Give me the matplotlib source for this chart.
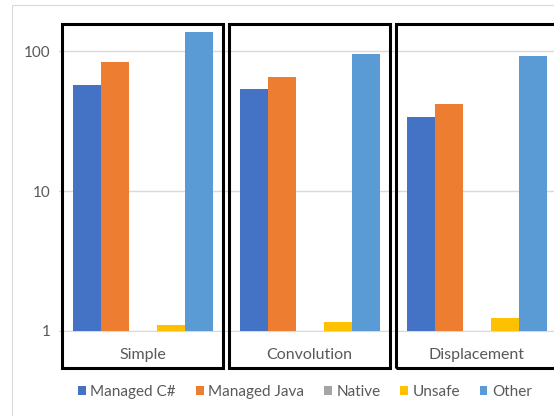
import numpy as np
import matplotlib
matplotlib.use('Agg')
import matplotlib.pyplot as plt
from matplotlib.patches import Rectangle
from matplotlib.transforms import blended_transform_factory

# data (log scale, axis starts at 1)
categories = ['Simple', 'Convolution', 'Displacement']
series_names = ['Managed C#', 'Managed Java', 'Native', 'Unsafe', 'Other']
managed_cs = [57, 54, 34]
managed_java = [83, 65, 42]
native = [1.0, 1.0, 1.0]
unsafe = [1.10, 1.16, 1.23]
other = [136, 95, 92]
y_ticks = [1, 10, 100]

values = [managed_cs, managed_java, native, unsafe, other]
colors = ['#4472C4', '#ED7D31', '#A5A5A5', '#FFC000', '#5B9BD5']

plt.rcParams['font.family'] = ['Lato', 'DejaVu Sans']
text_grey = '#595959'
grid_grey = '#d9d9d9'

fig = plt.figure(figsize=(5.54, 4.16), dpi=100)
W, H = 554.0, 416.0
ax = fig.add_axes([59 / W, 85 / H, 501 / W, 304.6 / H])

x = np.arange(len(categories))
bw = 28 / 167.0
for i, (vals, col, name) in enumerate(zip(values, colors, series_names)):
    ax.bar(x + (i - 2) * bw, vals, width=bw, color=col, label=name, zorder=3)

ax.set_yscale('log')
ax.set_ylim(1, 150)
ax.set_xlim(-0.5, len(categories) - 0.5)
ax.set_yticks(y_ticks)
ax.set_yticklabels([str(t) for t in y_ticks])
ax.yaxis.set_minor_locator(matplotlib.ticker.NullLocator())
ax.set_xticks(x)
ax.set_xticklabels(categories)
ax.tick_params(axis='x', length=0, pad=12, labelsize=11.5, labelcolor=text_grey)
ax.tick_params(axis='y', length=0, pad=6, labelsize=11, labelcolor=text_grey)
ax.grid(axis='y', color=grid_grey, linewidth=1, zorder=0)
for s in ['top', 'right', 'left']:
    ax.spines[s].set_visible(False)
ax.spines['bottom'].set_color(grid_grey)

# outer chart border (cut off at right and bottom)
fig.patches.append(Rectangle((12 / W, -0.1), 1.0, (H - 5) / H + 0.1,
                             transform=fig.transFigure, fill=False,
                             edgecolor=grid_grey, linewidth=0.8))

# black boxes around each group
trans = blended_transform_factory(ax.transData, fig.transFigure)
for xi in x:
    ax.add_patch(Rectangle((xi - 0.48, 48 / H), 0.96, (392 - 48) / H,
                           transform=trans, fill=False, edgecolor='black',
                           linewidth=2.2, clip_on=False, zorder=5))

leg = fig.legend(loc='center', bbox_to_anchor=(305 / W, (H - 392) / H), ncol=5,
                 frameon=False, fontsize=11, handlelength=0.5, handleheight=0.5,
                 handletextpad=0.3, columnspacing=1.3, borderpad=0.2)
for t in leg.get_texts():
    t.set_color(text_grey)

fig.savefig('out.png', dpi=100)
